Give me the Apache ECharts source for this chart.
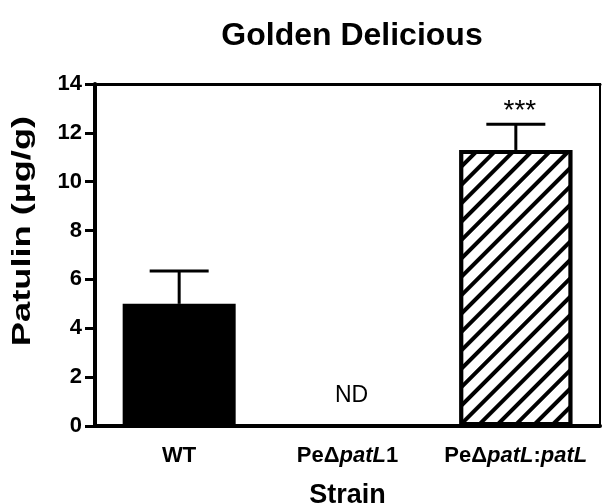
<!DOCTYPE html>
<html>
<head>
<meta charset="utf-8">
<script src="https://cdn.jsdelivr.net/npm/echarts@6/dist/echarts.min.js"></script>
<style>html,body{margin:0;padding:0;background:#fff;}#c{width:603px;height:504px;}</style>
</head>
<body>
<div id="c"></div>
<script>
// ---- data ----
const titleText = 'Golden Delicious';
const xAxisName = 'Strain';
const yAxisName = 'Patulin (µg/g)';
const categories = ['WT', 'PeΔpatL1', 'PeΔpatL:patL'];
const means = [5.0, 0, 11.3];
const errUpper = [1.34, 0, 1.05];
const annotations = ['', 'ND', '***'];
const annotationValues = [null, 1.25, 12.9];
const yMin = 0, yMax = 14, yInterval = 2;

const FONT = '"Liberation Sans", Arial, sans-serif';
const chart = echarts.init(document.getElementById('c'), null, {renderer: 'canvas'});

const hatch = {
  symbol: 'rect', symbolSize: 1,
  dashArrayX: [1, 0], dashArrayY: [3.5, 8.5],
  rotation: -Math.PI / 4, color: '#000', backgroundColor: '#fff'
};
const barStyles = [
  {color: '#000', borderColor: '#000', borderWidth: 4},
  {color: '#000', borderWidth: 0},
  {color: '#fff', borderColor: '#000', borderWidth: 4, decal: hatch}
];
const annotationFonts = ['23px ', '23px ', '28px '];

const option = {
  animation: false,
  backgroundColor: '#fff',
  title: {
    text: titleText, left: 347, top: 15, textAlign: 'center',
    textStyle: {fontFamily: FONT, fontWeight: 'bold', fontSize: 32, color: '#000'}
  },
  grid: {left: 95, right: 3, top: 84, bottom: 78, containLabel: false, outerBoundsMode: 'none',
    show: true, borderColor: '#000', borderWidth: 2, backgroundColor: 'transparent'},
  xAxis: [{
    type: 'category', data: categories,
    axisLine: {lineStyle: {color: '#000', width: 4}},
    axisTick: {alignWithLabel: true, length: 8, lineStyle: {color: '#000', width: 3}},
    axisLabel: {
      interval: 0, hideOverlap: false,
      color: '#000', fontFamily: FONT, fontWeight: 'bold', fontSize: 22, margin: 19,
      formatter: v => v.replace(/patL/g, '{i|patL}'),
      rich: {i: {fontStyle: 'italic', fontWeight: 'bold', fontSize: 22, fontFamily: FONT, color: '#000'}}
    },
    name: xAxisName, nameLocation: 'middle', nameGap: 56,
    nameTextStyle: {color: '#000', fontFamily: FONT, fontWeight: 'bold', fontSize: 27}
  }, {
    type: 'category', data: categories, position: 'top',
    axisLine: {lineStyle: {color: '#000', width: 3}},
    axisTick: {show: false}, axisLabel: {show: false}
  }],
  yAxis: {
    type: 'value', min: yMin, max: yMax, interval: yInterval,
    axisLine: {show: true, lineStyle: {color: '#000', width: 4}},
    axisTick: {show: true, length: 10, lineStyle: {color: '#000', width: 3}},
    axisLabel: {color: '#000', fontFamily: FONT, fontWeight: 'bold', fontSize: 22, margin: 13},
    splitLine: {show: false}
  },
  graphic: [{
    type: 'text', x: 23, y: 231, rotation: Math.PI / 2, scaleX: 1.45, scaleY: 1,
    style: {text: yAxisName, font: 'bold 25px ' + FONT, fill: '#000', align: 'center', verticalAlign: 'middle'}
  }],
  series: [{
    type: 'bar', barWidth: 113,
    data: means.map((v, i) => ({value: v, itemStyle: barStyles[i]}))
  }, {
    type: 'custom', z: 3,
    data: means.map((v, i) => [i, v, v + errUpper[i]]),
    renderItem: function (params, api) {
      const lo = api.value(1), hi = api.value(2);
      if (hi <= lo) return null;
      const p0 = api.coord([api.value(0), lo]);
      const p1 = api.coord([api.value(0), hi]);
      const capHalf = 29.5;
      const st = {stroke: '#000', lineWidth: 3};
      return {type: 'group', children: [
        {type: 'line', shape: {x1: p0[0], y1: p0[1], x2: p1[0], y2: p1[1]}, style: st},
        {type: 'line', shape: {x1: p1[0] - capHalf, y1: p1[1], x2: p1[0] + capHalf, y2: p1[1]}, style: st}
      ]};
    }
  }, {
    type: 'custom', z: 4,
    data: annotations.map((t, i) => [i, annotationValues[i] == null ? 0 : annotationValues[i], t]),
    renderItem: function (params, api) {
      const t = annotations[params.dataIndex];
      if (!t) return null;
      const p = api.coord([api.value(0), api.value(1)]);
      return {type: 'text', x: p[0] + 4, y: p[1],
        style: {text: t, font: annotationFonts[params.dataIndex] + FONT, fill: '#000', align: 'center', verticalAlign: 'middle'}};
    }
  }]
};
chart.setOption(option);
</script>
</body>
</html>
